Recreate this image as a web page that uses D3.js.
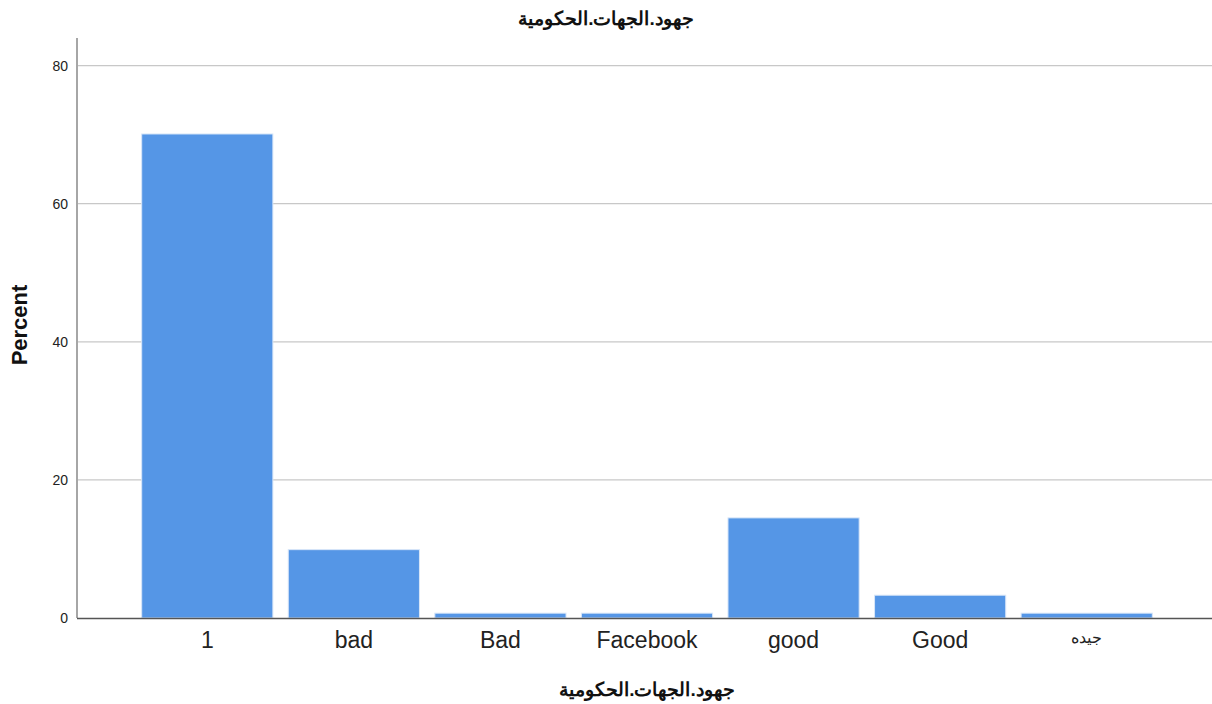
<!DOCTYPE html>
<html><head><meta charset="utf-8">
<script src="https://cdn.jsdelivr.net/npm/d3@7"></script>
<style>body{margin:0;background:#fff}svg{display:block;font-family:"Liberation Sans",Arial,sans-serif}</style>
</head><body>
<svg id="c" width="1212" height="704"></svg>
<script>
const categories = ["1", "bad", "Bad", "Facebook", "good", "Good", "جيده"];
const percents = [70.1, 9.9, 0.7, 0.7, 14.5, 3.3, 0.7];
const yTicks = [0, 20, 40, 60, 80];
const chartTitle = "جهود.الجهات.الحكومية";
const xTitle = "جهود.الجهات.الحكومية";
const yTitle = "Percent";

const svg = d3.select("#c");
const x = d3.scaleBand().domain(categories).range([134, 1160]).paddingInner(0.105).paddingOuter(0.0525);
const y = d3.scaleLinear().domain([0, 84]).range([618, 38]);

// gridlines
svg.append("g").selectAll("line").data(yTicks.filter(d => d > 0)).join("line")
  .attr("x1", 78).attr("x2", 1212)
  .attr("y1", d => y(d)).attr("y2", d => y(d))
  .attr("stroke", "#c8c8c8").attr("stroke-width", 1.3);

// y axis
const ya = svg.append("g").attr("transform", "translate(77,0)")
  .call(d3.axisLeft(y).tickValues(yTicks).tickSize(0).tickPadding(9));
ya.select(".domain").remove();
ya.selectAll("text").attr("font-size", 14).attr("fill", "#222").attr("font-family", "Liberation Sans, Arial, sans-serif");
svg.append("line").attr("x1", 77).attr("x2", 77).attr("y1", 38).attr("y2", 618)
  .attr("stroke", "#888").attr("stroke-width", 1.5);

// bars
svg.append("g").selectAll("rect").data(categories).join("rect")
  .attr("x", d => x(d)).attr("width", x.bandwidth())
  .attr("y", (d, i) => y(percents[i]))
  .attr("height", (d, i) => y(0) - y(percents[i]))
  .attr("fill", "#5596e6").attr("stroke", "#d8e6f8").attr("stroke-width", 1);

// baseline
svg.append("line").attr("x1", 77).attr("x2", 1212).attr("y1", 618.5).attr("y2", 618.5)
  .attr("stroke", "#555").attr("stroke-width", 1.3);

// x axis labels
const xa = svg.append("g").attr("transform", "translate(0,618)")
  .call(d3.axisBottom(x).tickSize(0).tickPadding(14));
xa.select(".domain").remove();
xa.selectAll("text").attr("font-size", d => /^[\u0600-\u06FF]+$/.test(d) ? 16 : 23)
  .attr("fill", "#222").attr("font-family", "Liberation Sans, Arial, sans-serif");

// titles
svg.append("text").attr("x", 606).attr("y", 25).attr("text-anchor", "middle")
  .attr("font-size", 19).attr("font-weight", "bold").attr("fill", "#111").text(chartTitle);
svg.append("text").attr("x", 647).attr("y", 696).attr("text-anchor", "middle")
  .attr("font-size", 19).attr("font-weight", "bold").attr("fill", "#111").text(xTitle);
svg.append("text").attr("transform", "translate(27,325) rotate(-90)").attr("text-anchor", "middle")
  .attr("font-size", 22).attr("font-weight", "bold").attr("fill", "#111").text(yTitle);
</script>
</body></html>
